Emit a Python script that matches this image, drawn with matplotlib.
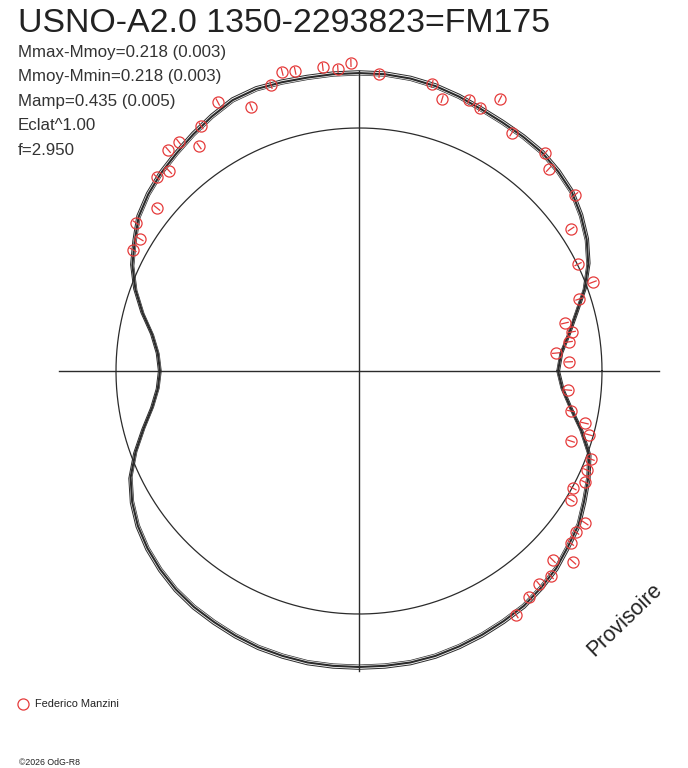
import numpy as np
import matplotlib
matplotlib.use("Agg")
import matplotlib.pyplot as plt
from matplotlib.collections import LineCollection

plt.rcParams["font.family"] = ["Liberation Sans", "DejaVu Sans"]

TITLE = "USNO-A2.0 1350-2293823=FM175"
INFO = ["Mmax-Mmoy=0.218 (0.003)", "Mmoy-Mmin=0.218 (0.003)",
        "Mamp=0.435 (0.005)", "Eclat^1.00", "f=2.950"]
OBSERVER = "Federico Manzini"
WATERMARK = "Provisoire"
COPYRIGHT = "\u00a92026 OdG-R8"

# model light curve: polar angle (deg) and radius (reference circle = 1)
curve_ang = np.arange(0, 360, 5)
curve_r = [0.819, 0.835, 0.877, 0.926, 0.988, 1.041, 1.082, 1.115, 1.144, 1.160,
           1.173, 1.177, 1.181, 1.189, 1.202, 1.214, 1.222, 1.226, 1.226, 1.226,
           1.226, 1.230, 1.235, 1.230, 1.210, 1.189, 1.169, 1.152, 1.132, 1.107,
           1.066, 1.029, 0.979, 0.922, 0.864, 0.831, 0.819, 0.831, 0.864, 0.918,
           0.979, 1.037, 1.078, 1.111, 1.136, 1.156, 1.173, 1.185, 1.193, 1.202,
           1.210, 1.214, 1.218, 1.218, 1.218, 1.218, 1.218, 1.214, 1.206, 1.198,
           1.189, 1.181, 1.165, 1.148, 1.123, 1.103, 1.070, 1.041, 1.008, 0.947,
           0.885, 0.840]

# observations (Federico Manzini)
obs_ang = [104.4, 102.0, 96.8, 94.0, 91.5, 107.1, 117.7, 112.2, 122.8, 128.2,
           130.8, 125.4, 133.5, 136.2, 141.1, 146.4, 148.9, 151.8, 86.1, 75.7,
           73.0, 67.9, 65.3, 62.6, 57.3, 49.5, 46.8, 39.2, 33.8, 26.0,
           20.8, 18.1, 13.1, 10.4, 7.9, 5.2, 2.5, -5.2, -10.7, -13.0,
           -15.5, -18.3, -20.8, -23.5, -26.2, -28.7, -31.3, -33.9, -36.6, -39.1,
           -44.3, -41.7, -46.9, -49.8, -53.0, -57.2]
obs_r = [1.271, 1.263, 1.260, 1.246, 1.268, 1.231, 1.250, 1.174, 1.200, 1.199,
         1.202, 1.136, 1.135, 1.153, 1.068, 1.101, 1.052, 1.055, 1.225, 1.219,
         1.170, 1.204, 1.191, 1.261, 1.164, 1.179, 1.141, 1.147, 1.050, 1.003,
         1.030, 0.953, 0.870, 0.891, 0.872, 0.814, 0.865, 0.864, 0.888, 0.954,
         0.982, 0.919, 1.021, 1.023, 1.036, 1.004, 1.021, 1.121, 1.112, 1.123,
         1.114, 1.180, 1.156, 1.148, 1.164, 1.194]

W, H = 688, 768
CX, CY, SCALE = 359, 371, 243.0
INK = "#2b2b2b"
RED = "#e53b3b"

fig = plt.figure(figsize=(W / 100, H / 100), dpi=100)
ax = fig.add_axes([0, 0, 1, 1])
ax.set_xlim(-CX / SCALE, (W - CX) / SCALE)
ax.set_ylim(-(H - CY) / SCALE, CY / SCALE)
ax.axis("off")

# model curve, drawn as a narrow band
t = np.radians(np.append(curve_ang, curve_ang[0]))
r = np.append(curve_r, curve_r[0])
ax.plot(r * np.cos(t), r * np.sin(t), color=INK, lw=1.5, zorder=2)
ax.plot(r * 1.008 * np.cos(t), r * 1.008 * np.sin(t), color=INK, lw=0.7, zorder=2)
ax.plot(r * 0.993 * np.cos(t), r * 0.993 * np.sin(t), color=INK, lw=0.5, zorder=2)

# reference circle and axes
tt = np.linspace(0, 2 * np.pi, 400)
ax.plot(np.cos(tt), np.sin(tt), color=INK, lw=0.9, zorder=1)
L = max(curve_r)
ax.plot([-L, L], [0, 0], color=INK, lw=1.0, zorder=1)
ax.plot([0, 0], [-L, L], color=INK, lw=1.0, zorder=1)

# observations with radial error ticks
oa = np.radians(obs_ang)
orr = np.array(obs_r)
ox, oy = orr * np.cos(oa), orr * np.sin(oa)
d = 4.0 / SCALE
segs = [[((ri - d) * np.cos(a), (ri - d) * np.sin(a)),
         ((ri + d) * np.cos(a), (ri + d) * np.sin(a))] for ri, a in zip(orr, oa)]
ax.add_collection(LineCollection(segs, colors=RED, linewidths=0.9, zorder=4))
ax.plot(ox, oy, "o", ms=8.0, mfc="none", mec=RED, mew=0.9, zorder=4)

# texts
def fx(x):
    return x / W

def fy(y):
    return 1 - y / H

fig.text(fx(18), fy(32.5), TITLE, fontsize=24.4, color="#222222", va="baseline")
for i, line in enumerate(INFO):
    fig.text(fx(18), fy(57 + 24.5 * i), line, fontsize=12.2, color="#333333",
             va="baseline")

ax.plot([(23 - CX) / SCALE], [(CY - 704) / SCALE], "o", ms=8.0, mfc="none",
        mec=RED, mew=0.9)
fig.text(fx(35), fy(704), OBSERVER, fontsize=7.9, color="#222222", va="center")
fig.text(fx(19), fy(762.5), COPYRIGHT, fontsize=6.3, color="#222222", va="center")
fig.text(fx(625), fy(620), WATERMARK, fontsize=15.5, color="#222222", rotation=44,
         ha="center", va="center", rotation_mode="anchor")

fig.savefig("out.png", dpi=100)
